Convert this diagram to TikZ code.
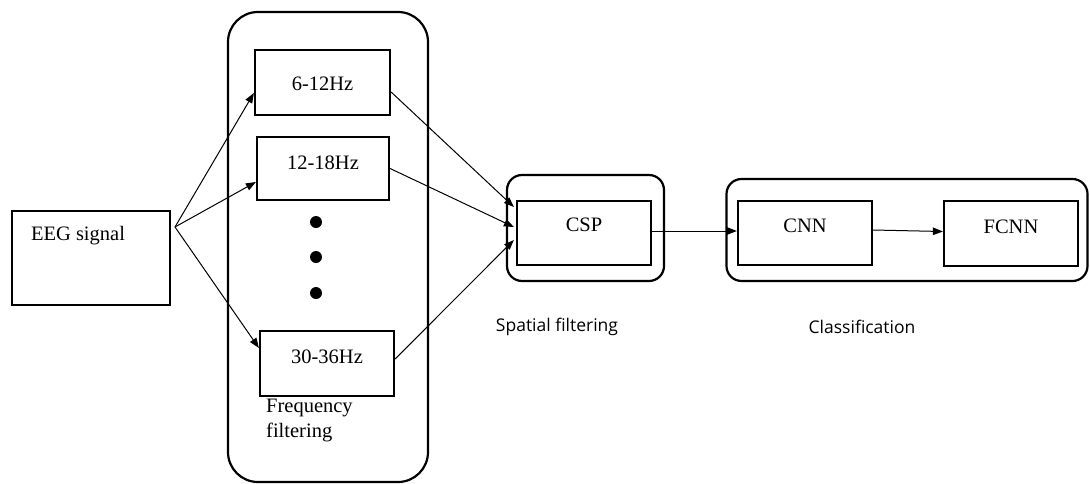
\documentclass[tikz,border=0pt]{standalone}
\usepackage{fontspec}
\setmainfont{Liberation Serif}
\newfontfamily\captionsans{Open Sans}
\usetikzlibrary{arrows.meta}

\begin{document}
\begin{tikzpicture}[x=1pt, y=-1pt,
  serif/.style={font=\fontsize{20.5pt}{25pt}\selectfont},
  stagebox/.style={draw, line width=2.2pt, rectangle, inner sep=0pt},
  groupbox/.style={draw, line width=2.2pt, rectangle, rounded corners=#1, inner sep=0pt},
  groupbox/.default=15pt,
  caption/.style={font=\captionsans\fontsize{17.5pt}{21pt}\selectfont, inner sep=0pt},
  arr/.style={line width=1pt, -{Triangle[length=10pt,width=7.5pt]}},
  dot/.style={circle, fill, inner sep=0pt, minimum size=12pt}
]
\useasboundingbox (0,0) rectangle (1090,483);

% stage containers
\node[groupbox=30pt, minimum width=200pt, minimum height=470pt] (freqgrp) at (328,247) {};
\node[groupbox, minimum width=157pt, minimum height=106pt] (spatgrp) at (585.5,228) {};
\node[groupbox, minimum width=361pt, minimum height=102pt] (clsgrp) at (907,230) {};

% input
\node[stagebox, minimum width=158pt, minimum height=94pt,
      label={[serif, xshift=-13pt, yshift=22pt]center:EEG signal}] (eeg) at (91,258) {};
\coordinate (fork) at (175,227);

% filter bank
\node[stagebox, minimum width=135pt, minimum height=65pt,
      label={[serif, yshift=-1.5pt]center:6-12Hz}] (b1) at (322.5,82.5) {};
\node[stagebox, minimum width=132pt, minimum height=63pt,
      label={[serif, yshift=5.5pt]center:12-18Hz}] (b2) at (323,168.5) {};
\node[stagebox, minimum width=134pt, minimum height=65pt,
      label={[serif, yshift=6.5pt]center:30-36Hz}] (b3) at (327,363.5) {};
\node[dot] (d1) at (316,222) {};
\node[dot] (d2) at (316,257) {};
\node[dot] (d3) at (316,293) {};
\node[serif, anchor=west, align=left, inner sep=0pt] (freqlbl) at (266,420.5) {Frequency\\filtering};

% spatial filter and classifier
\node[stagebox, minimum width=134pt, minimum height=64pt,
      label={[serif, yshift=8pt]center:CSP}] (csp) at (584,233) {};
\node[stagebox, minimum width=134pt, minimum height=64pt,
      label={[serif, yshift=7pt]center:CNN}] (cnn) at (805,233) {};
\node[stagebox, minimum width=134pt, minimum height=65pt,
      label={[serif, yshift=7pt]center:FCNN}] (fcnn) at (1011,233.5) {};

\node[caption] (spatlbl) at (557,327) {Spatial filtering};
\node[caption] (clslbl) at (862,327) {Classification};

% connectors
\draw[arr] (fork) -- ([yshift=-10.5pt]b1.west);
\draw[arr] (fork) -- ([yshift=-13.5pt]b2.west);
\draw[arr] (fork) -- ([yshift=15.5pt]b3.west);

\draw[arr] ([yshift=-9.5pt]b1.east) -- ([xshift=-2pt, yshift=26pt]csp.west);
\draw[arr] (b2.east) -- ([xshift=-2pt, yshift=6pt]csp.west);
\draw[arr] ([yshift=4.5pt]b3.east) -- ([xshift=-2pt, yshift=-7pt]csp.west);

\draw[arr] ([yshift=2pt]csp.east) -- ([yshift=2pt]cnn.west);
\draw[arr] ([yshift=3pt]cnn.east) -- ([yshift=2pt]fcnn.west);
\end{tikzpicture}
\end{document}
